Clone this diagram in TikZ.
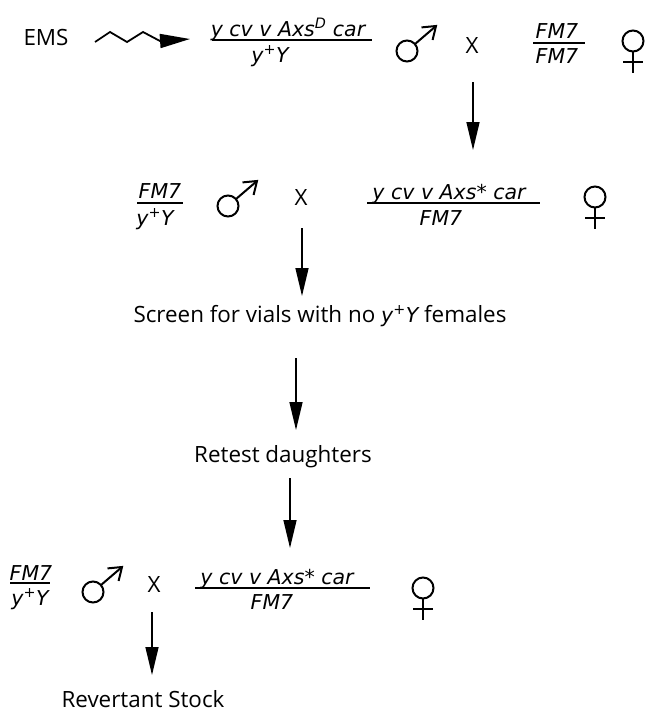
\documentclass[tikz,border=0pt]{standalone}
\usepackage{fontspec}
\setmainfont{Open Sans}
\newfontfamily\genfont{DejaVu Sans}
\usetikzlibrary{arrows.meta}
\tikzset{
  txt/.style={inner sep=0pt, anchor=base, font=\fontsize{22.4}{26}\selectfont},
  gen/.style={inner sep=0pt, anchor=base, font=\fontsize{20.5}{24}\genfont\itshape},
  bar/.style={line width=1.6pt},
  sym/.style={line width=2pt},
  flow/.style={line width=1.5pt, -{Triangle[length=28pt,width=13pt]}},
  male/.pic={
    \draw[sym] (0,0) circle[radius=10.5pt];
    \draw[sym] (7.8,-6.8) -- (29,-25);
    \draw[sym] (14.5,-23.6) -- (29,-25) -- (25.6,-11);
  },
  female/.pic={
    \draw[sym] (0,0) circle[radius=10.5pt];
    \draw[sym] (0,10.5) -- (0,32);
    \draw[sym] (-10,21) -- (10,21);
  }
}
\begin{document}
\begin{tikzpicture}[x=1pt,y=-1pt]
\useasboundingbox (0,0) rectangle (645,712);
% Row 1
\node[txt] (ems) at (46,45) {EMS};
\coordinate (zz) at (95,42);
\coordinate (zt) at (190,39);
\draw[line width=1.8pt, -{Triangle[length=30pt,width=14pt]}] (zz) -- (110,32) -- (127,42) -- (143,32) -- (160,41) -- (zt);
\node[gen] (n1) at (288,36) {y cv v Axs\textsuperscript{D} car};
\draw[bar] (212,40) coordinate (l1a) -- (372,40) coordinate (l1b);
\node[gen] (d1) at (270,62) {y\textsuperscript{\upshape +}Y};
\pic (m1) at (407,51) {male};
\node[txt] (x1) at (472,53) {X};
\node[gen] (f1a) at (557,38) {FM7};
\draw[bar] (533,43) coordinate (l2a) -- (585,43) coordinate (l2b);
\node[gen] (f1b) at (557,63) {FM7};
\pic (w1) at (633,41) {female};
% Arrow 1
\coordinate (a1s) at (473,82);
\coordinate (a1e) at (473,150);
\draw[flow] (a1s) -- (a1e);
% Row 2
\node[gen] (f2a) at (160,198) {FM7};
\draw[bar] (137,203) coordinate (l3a) -- (183,203) coordinate (l3b);
\node[gen] (d2) at (155,225) {y\textsuperscript{\upshape +}Y};
\pic (m2) at (228,206) {male};
\node[txt] (x2) at (301,205) {X};
\node[gen] (n2) at (449,199) {y cv v Axs* car};
\draw[bar] (367,203) coordinate (l4a) -- (540,203) coordinate (l4b);
\node[gen] (f2b) at (441,225) {FM7};
\pic (w2) at (595,197) {female};
% Arrow 2
\coordinate (a2s) at (302,228);
\coordinate (a2e) at (302,296);
\node[txt] (scr) at (320,322) {Screen for vials with no {\genfont\itshape\fontsize{20.5}{24}\selectfont y\textsuperscript{\upshape +}Y} females};
\draw[flow] (a2s) -- (a2e);
% Arrow 3
\node[txt] (ret) at (283,462) {Retest daughters};
\draw[flow] (296,358) coordinate (a3s) -- (296,430) coordinate (a3e);
% Arrow 4
\draw[flow] (290,478) coordinate (a4s) -- (290,548) coordinate (a4e);
% Row 3
\node[gen] (f3a) at (31,580) {FM7};
\draw[bar] (10,583) coordinate (l5a) -- (50,583) coordinate (l5b);
\node[gen] (d3) at (30,605) {y\textsuperscript{\upshape +}Y};
\pic (m3) at (93,592) {male};
\node[txt] (x3) at (154,592) {X};
\node[gen] (n3) at (277,584) {y cv v Axs* car};
\draw[bar] (195,588) coordinate (l6a) -- (370,588) coordinate (l6b);
\node[gen] (f3b) at (272,609) {FM7};
\pic (w3) at (423,588) {female};
% Arrow 5
\draw[flow] (152,612) coordinate (a5s) -- (152,675) coordinate (a5e);
\node[txt] (rev) at (143,707) {Revertant Stock};
\end{tikzpicture}
\end{document}
